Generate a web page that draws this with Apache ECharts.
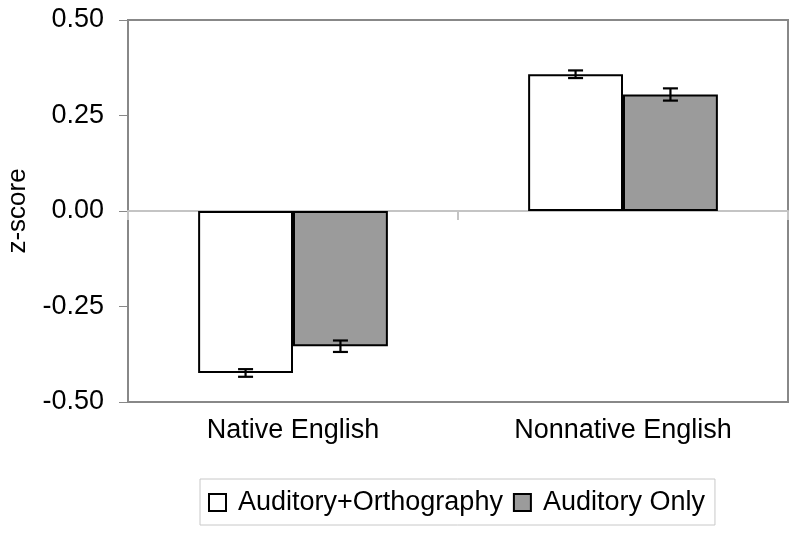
<!DOCTYPE html>
<html>
<head>
<meta charset="utf-8">
<script src="https://cdn.jsdelivr.net/npm/echarts@6/dist/echarts.min.js"></script>
<style>
html,body{margin:0;padding:0;background:#fff;}
#chart{width:800px;height:538px;}
</style>
</head>
<body>
<div id="chart"></div>
<script>
var categories = ['Native English', 'Nonnative English'];
var seriesNames = ['Auditory+Orthography', 'Auditory Only'];
var audOrthValues = [-0.424, 0.358];
var audOrthErrors = [0.010, 0.010];
var audOnlyValues = [-0.354, 0.305];
var audOnlyErrors = [0.015, 0.016];
var yTicks = [-0.5, -0.25, 0, 0.25, 0.5];

var FONT = 'Liberation Sans, Arial, sans-serif';
var BAR_CAT_GAP = 0.425;

function errorData(vals, errs) {
  return vals.map(function (v, i) { return [i, v - errs[i], v + errs[i]]; });
}

function makeErrorRenderer(which) {
  return function (params, api) {
    var idx = api.value(0);
    var lo = api.coord([idx, api.value(1)]);
    var hi = api.coord([idx, api.value(2)]);
    var band = api.size([1, 0])[0];
    var barW = band * (1 - BAR_CAT_GAP) / 2;
    var x = lo[0] + (which === 0 ? -barW / 2 : barW / 2);
    var cap = 7.5;
    var style = { stroke: '#000', lineWidth: 2.2, fill: null };
    return {
      type: 'group',
      children: [
        { type: 'line', shape: { x1: x, y1: lo[1], x2: x, y2: hi[1] }, style: style },
        { type: 'line', shape: { x1: x - cap, y1: lo[1], x2: x + cap, y2: lo[1] }, style: style },
        { type: 'line', shape: { x1: x - cap, y1: hi[1], x2: x + cap, y2: hi[1] }, style: style }
      ]
    };
  };
}

var chart = echarts.init(document.getElementById('chart'), null, { renderer: 'canvas' });
chart.setOption({
  animation: false,
  backgroundColor: '#fff',
  textStyle: { fontFamily: FONT },
  grid: {
    left: 128, right: 12, top: 20, bottom: 136,
    containLabel: false, outerBoundsMode: 'none',
    show: true, borderColor: '#888', borderWidth: 2, backgroundColor: 'transparent'
  },
  legend: {
    data: seriesNames,
    left: 200, top: 479,
    padding: [10, 10, 9, 8],
    itemWidth: 17, itemHeight: 17, itemGap: 10,
    borderColor: '#c8c8c8', borderWidth: 1,
    icon: 'rect',
    textStyle: { fontSize: 27, color: '#000', fontFamily: FONT, padding: [0, 0, 0, 7] }
  },
  xAxis: [
    {
      type: 'category', data: categories, position: 'bottom',
      axisLine: { onZero: true, lineStyle: { color: '#c4c4c4', width: 2 } },
      axisTick: { show: true, length: 9, lineStyle: { color: '#c4c4c4', width: 2 } },
      axisLabel: { show: false },
      splitLine: { show: false }
    },
    {
      type: 'category', data: categories, position: 'bottom',
      axisLine: { show: false, onZero: false },
      axisTick: { show: false },
      axisLabel: { show: true, fontSize: 27, color: '#000', margin: 15, fontFamily: FONT },
      splitLine: { show: false }
    }
  ],
  yAxis: {
    type: 'value', min: -0.5, max: 0.5, interval: 0.25,
    name: 'z-score', nameLocation: 'middle', nameGap: 97, nameRotate: 90,
    nameTextStyle: { fontSize: 26, color: '#000', fontFamily: FONT },
    axisLine: { show: true, lineStyle: { color: '#888', width: 2 } },
    axisTick: { show: true, length: 9, lineStyle: { color: '#888', width: 1 } },
    axisLabel: {
      fontSize: 27, color: '#000', margin: 24, fontFamily: FONT,
      formatter: function (v) {
        var t = yTicks.reduce(function (a, b) { return Math.abs(b - v) < Math.abs(a - v) ? b : a; });
        return t.toFixed(2);
      }
    },
    splitLine: { show: false }
  },
  series: [
    {
      name: seriesNames[0], type: 'bar', xAxisIndex: 0, data: audOrthValues,
      barGap: '0%', barCategoryGap: (BAR_CAT_GAP * 100) + '%',
      itemStyle: { color: '#ffffff', borderColor: '#000', borderWidth: 2 },
      z: 3
    },
    {
      name: seriesNames[1], type: 'bar', xAxisIndex: 0, data: audOnlyValues,
      barGap: '0%', barCategoryGap: (BAR_CAT_GAP * 100) + '%',
      itemStyle: { color: '#9b9b9b', borderColor: '#000', borderWidth: 2 },
      z: 3
    },
    {
      type: 'custom', xAxisIndex: 0, renderItem: makeErrorRenderer(0),
      data: errorData(audOrthValues, audOrthErrors), z: 5, silent: true,
      encode: { x: 0, y: [1, 2] }
    },
    {
      type: 'custom', xAxisIndex: 0, renderItem: makeErrorRenderer(1),
      data: errorData(audOnlyValues, audOnlyErrors), z: 5, silent: true,
      encode: { x: 0, y: [1, 2] }
    }
  ]
});
</script>
</body>
</html>
